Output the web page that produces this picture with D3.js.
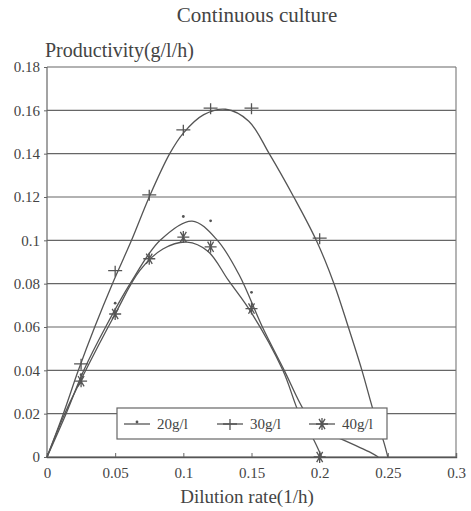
<!DOCTYPE html>
<html>
<head>
<meta charset="utf-8">
<script src="https://cdn.jsdelivr.net/npm/d3@7"></script>
<style>
  html, body { margin: 0; padding: 0; background: #fff; }
  svg { display: block; }
  text { font-family: "Liberation Serif", "DejaVu Serif", serif; fill: #444; }
</style>
</head>
<body>
<svg id="chart" width="471" height="511"></svg>
<script>
// Measured productivity at each dilution rate, one set per substrate feed
const series = ["20g/l", "30g/l", "40g/l"];

const pts20X = [0.025, 0.05, 0.1, 0.12, 0.15];
const pts20Y = [0.038, 0.071, 0.111, 0.109, 0.076];

const pts30X = [0.025, 0.05, 0.075, 0.1, 0.12, 0.15, 0.2];
const pts30Y = [0.043, 0.086, 0.121, 0.151, 0.161, 0.161, 0.101];

const pts40X = [0.025, 0.05, 0.075, 0.1, 0.12, 0.15, 0.2];
const pts40Y = [0.035, 0.066, 0.0915, 0.1015, 0.097, 0.0685, 0.0];

// Fitted model curves
const fit20X = [0, 0.014, 0.027, 0.043, 0.061, 0.083, 0.1064, 0.125, 0.141, 0.158, 0.174, 0.19, 0.202, 0.215, 0.2375, 0.243];
const fit20Y = [0, 0.02, 0.04, 0.06, 0.08, 0.1, 0.1089, 0.1, 0.084, 0.06, 0.04, 0.02, 0.012, 0.0085, 0.002, 0];

const fit30X = [0, 0.012, 0.023, 0.035, 0.048, 0.062, 0.075, 0.09, 0.1, 0.115, 0.131, 0.148, 0.163, 0.181, 0.1975, 0.2105, 0.221, 0.231, 0.24, 0.247, 0.25];
const fit30Y = [0, 0.02, 0.04, 0.06, 0.08, 0.1, 0.12, 0.14, 0.1495, 0.158, 0.1605, 0.155, 0.14, 0.12, 0.1, 0.08, 0.06, 0.04, 0.02, 0.007, 0];

const fit40X = [0, 0.013, 0.026, 0.05, 0.068, 0.085, 0.1027, 0.118, 0.133, 0.15, 0.173, 0.185, 0.196, 0.2015];
const fit40Y = [0, 0.02, 0.037, 0.066, 0.086, 0.096, 0.0992, 0.095, 0.0816, 0.0665, 0.04, 0.02, 0.0075, 0];

const xTicks = [0, 0.05, 0.1, 0.15, 0.2, 0.25, 0.3];
const yTicks = [0, 0.02, 0.04, 0.06, 0.08, 0.1, 0.12, 0.14, 0.16, 0.18];

const svg = d3.select("#chart");
const L = 47, R = 456, T = 67, B = 457;
const x = d3.scaleLinear().domain([0, 0.3]).range([L, R]);
const y = d3.scaleLinear().domain([0, 0.18]).range([B, T]);

const ink = "#555";

// Title and axis titles
svg.append("text").attr("x", 257).attr("y", 22).attr("text-anchor", "middle")
  .style("font-size", "21px").text("Continuous culture");
svg.append("text").attr("x", 45).attr("y", 57)
  .style("font-size", "20px").text("Productivity(g/l/h)");
svg.append("text").attr("x", 247).attr("y", 503).attr("text-anchor", "middle")
  .style("font-size", "19px").text("Dilution rate(1/h)");

// Horizontal grid lines
svg.append("g").selectAll("line").data(yTicks).join("line")
  .attr("x1", L).attr("x2", R)
  .attr("y1", d => y(d)).attr("y2", d => y(d))
  .attr("stroke", "#666").attr("stroke-width", 1.2);

// Frame sides
svg.append("line").attr("x1", L).attr("x2", L).attr("y1", T).attr("y2", B)
  .attr("stroke", "#666").attr("stroke-width", 1.2);
svg.append("line").attr("x1", R).attr("x2", R).attr("y1", T).attr("y2", B)
  .attr("stroke", "#777").attr("stroke-width", 1.1);

// Axes
const fmt = d => d === 0 ? "0" : String(+d.toFixed(2));
const yAxis = d3.axisLeft(y).tickValues(yTicks).tickSize(3).tickPadding(4).tickFormat(fmt);
const gy = svg.append("g").attr("transform", `translate(${L},0)`).call(yAxis);
gy.select(".domain").remove();
gy.selectAll("line").attr("stroke", "#666");
gy.selectAll("text").style("font-size", "15px").style("font-family", "Liberation Serif, serif").attr("fill", "#555");

const xAxis = d3.axisBottom(x).tickValues(xTicks).tickSize(-4).tickPadding(10).tickFormat(fmt);
const gx = svg.append("g").attr("transform", `translate(0,${B})`).call(xAxis);
gx.select(".domain").attr("stroke", "#555").attr("stroke-width", 1.4);
gx.selectAll("line").attr("stroke", "#666");
gx.selectAll("text").style("font-size", "15px").style("font-family", "Liberation Serif, serif").attr("fill", "#555");

// Fitted curves
const line = d3.line().x(d => x(d[0])).y(d => y(d[1])).curve(d3.curveCatmullRom.alpha(0.5));
const fits = [
  d3.zip(fit20X, fit20Y),
  d3.zip(fit30X, fit30Y),
  d3.zip(fit40X, fit40Y)
];
svg.append("g").selectAll("path").data(fits).join("path")
  .attr("d", line).attr("fill", "none")
  .attr("stroke", ink).attr("stroke-width", 1.3);

// Marker shapes
function dotMark(g, cx, cy) {
  g.append("circle").attr("cx", cx).attr("cy", cy).attr("r", 1.4).attr("fill", ink);
}
function plusMark(g, cx, cy) {
  g.append("path").attr("d", `M${cx - 7},${cy}H${cx + 7}M${cx},${cy - 5}V${cy + 6}`)
    .attr("stroke", ink).attr("stroke-width", 1.3).attr("fill", "none");
}
function starMark(g, cx, cy) {
  const r = 6, a = r * Math.cos(Math.PI / 3), b = r * Math.sin(Math.PI / 3);
  g.append("path")
    .attr("d", `M${cx - r},${cy}H${cx + r}M${cx},${cy - r}V${cy + r}` +
      `M${cx - a},${cy - b}L${cx + a},${cy + b}M${cx - a},${cy + b}L${cx + a},${cy - b}`)
    .attr("stroke", ink).attr("stroke-width", 1.3).attr("fill", "none");
}

const marks = svg.append("g");
d3.zip(pts20X, pts20Y).forEach(d => dotMark(marks, x(d[0]), y(d[1])));
d3.zip(pts30X, pts30Y).forEach(d => plusMark(marks, x(d[0]), y(d[1])));
d3.zip(pts40X, pts40Y).forEach(d => starMark(marks, x(d[0]), y(d[1])));

// Legend box
const lg = svg.append("g");
lg.append("rect").attr("x", 117).attr("y", 408).attr("width", 270).attr("height", 31)
  .attr("fill", "#fff").attr("stroke", "#666").attr("stroke-width", 1.2);
const legendItems = [
  { label: series[0], x0: 124, draw: dotMark },
  { label: series[1], x0: 217, draw: plusMark },
  { label: series[2], x0: 309, draw: starMark }
];
legendItems.forEach(it => {
  const cy = 424;
  lg.append("line").attr("x1", it.x0).attr("x2", it.x0 + 26).attr("y1", cy).attr("y2", cy)
    .attr("stroke", ink).attr("stroke-width", 1.3);
  it.draw(lg, it.x0 + 13, it.draw === dotMark ? cy - 2 : cy);
  lg.append("text").attr("x", it.x0 + 33).attr("y", cy + 5)
    .style("font-size", "15px").text(it.label);
});
</script>
</body>
</html>
